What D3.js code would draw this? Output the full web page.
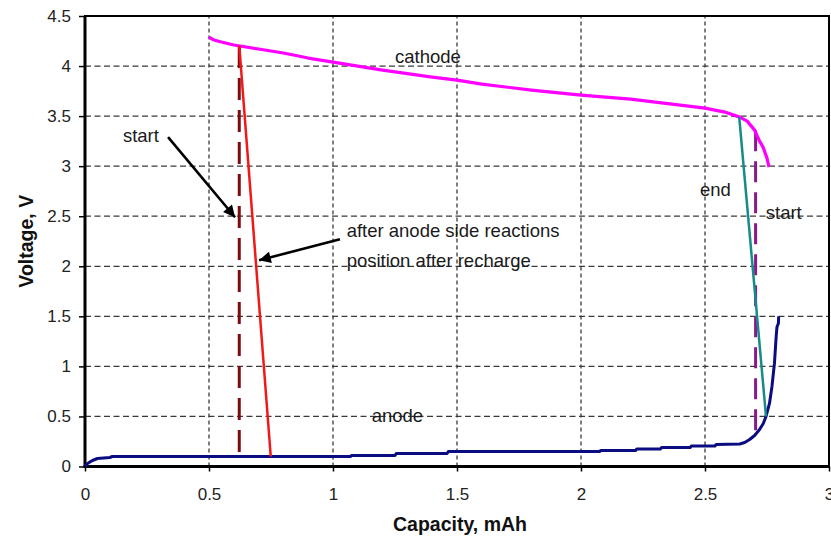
<!DOCTYPE html>
<html>
<head>
<meta charset="utf-8">
<script src="https://cdn.jsdelivr.net/npm/d3@7"></script>
<style>
  html, body { margin: 0; padding: 0; background: #fff; }
  svg { display: block; font-family: "Liberation Sans", Arial, sans-serif; }
</style>
</head>
<body>
<svg id="chart" width="831" height="540"></svg>
<script>
// Voltage profiles (capacity in mAh, voltage in V)
const cathode = [
  [0.5, 4.29], [0.52, 4.26], [0.55, 4.24], [0.6, 4.21], [0.7, 4.17], [0.8, 4.13],
  [0.9, 4.08], [1.0, 4.04], [1.2, 3.96], [1.4, 3.89], [1.5, 3.86], [1.6, 3.82],
  [1.8, 3.76], [2.0, 3.71], [2.2, 3.67], [2.4, 3.61], [2.5, 3.58], [2.58, 3.54],
  [2.64, 3.49], [2.67, 3.45], [2.7, 3.36], [2.72, 3.25], [2.734, 3.19],
  [2.75, 3.08], [2.758, 2.99]
];
const anode = [
  [0, 0.0], [0.01, 0.03], [0.03, 0.06], [0.05, 0.08], [0.1, 0.09], [0.11, 0.1],
  [1.07, 0.1], [1.075, 0.11], [1.25, 0.11], [1.255, 0.13], [1.46, 0.13], [1.465, 0.15],
  [2.075, 0.15], [2.08, 0.16], [2.22, 0.16], [2.225, 0.175], [2.32, 0.175], [2.325, 0.19],
  [2.44, 0.19], [2.445, 0.205], [2.54, 0.205], [2.545, 0.22], [2.64, 0.225],
  [2.66, 0.24], [2.68, 0.27], [2.70, 0.31], [2.72, 0.37], [2.735, 0.43], [2.746, 0.5],
  [2.76, 0.63], [2.77, 0.8], [2.78, 1.03], [2.787, 1.3], [2.79, 1.39], [2.796, 1.43], [2.797, 1.5]
];
// Electrode alignment lines
const recharged = [[0.622, 4.206], [0.749, 0.1]];     // after anode side reactions
const startLeft = [[0.622, 4.2], [0.622, 0.1]];       // initial position
const endLine = [[2.638, 3.49], [2.746, 0.5]];        // end of discharge
const startRight = [[2.704, 3.36], [2.704, 0.32]];    // start

// Axis ticks
const xTicks = [0, 0.5, 1, 1.5, 2, 2.5, 3];
const xTickLabels = ["0", "0.5", "1", "1.5", "2", "2.5", "3"];
const yTicks = [0, 0.5, 1, 1.5, 2, 2.5, 3, 3.5, 4, 4.5];
const yTickLabels = ["0", "0.5", "1", "1.5", "2", "2.5", "3", "3.5", "4", "4.5"];

// Text annotations, anchored in data units
const labels = [
  { text: "cathode", x: 1.25, y: 4.03 },
  { text: "anode", x: 1.156, y: 0.44 },
  { text: "start", x: 0.153, y: 3.24 },
  { text: "after anode side reactions", x: 1.055, y: 2.29 },
  { text: "position after recharge", x: 1.055, y: 1.99 },
  { text: "end", x: 2.48, y: 2.70 },
  { text: "start", x: 2.745, y: 2.47 }
];
const arrows = [
  { from: [0.335, 3.29], to: [0.605, 2.49] },
  { from: [1.028, 2.27], to: [0.702, 2.06] }
];

const svg = d3.select("#chart");
const margin = { left: 85, right: 2, top: 16, bottom: 73.5 };
const W = 831, H = 540;
const x = d3.scaleLinear().domain([0, 3]).range([margin.left, W - margin.right]);
const y = d3.scaleLinear().domain([0, 4.5]).range([H - margin.bottom, margin.top]);

svg.append("rect").attr("width", W).attr("height", H).attr("fill", "#fff");

// Grid
const grid = svg.append("g").attr("stroke", "#3a3a3a").attr("stroke-width", 1.3);
grid.selectAll(".gy").data(yTicks.filter(v => v > 0 && v < 4.5)).join("line")
  .attr("x1", x(0)).attr("x2", x(3))
  .attr("y1", d => y(d)).attr("y2", d => y(d))
  .attr("stroke-dasharray", "6,3.5");
grid.selectAll(".gx").data(xTicks.filter(v => v > 0 && v < 3)).join("line")
  .attr("y1", y(0)).attr("y2", y(4.5))
  .attr("x1", d => x(d)).attr("x2", d => x(d))
  .attr("stroke-dasharray", "4,3");

// Axes
const yAxis = d3.axisLeft(y).tickValues(yTicks)
  .tickFormat((d, i) => yTickLabels[i]).tickSize(6).tickPadding(8);
const gy = svg.append("g").attr("transform", `translate(${x(0)},0)`).call(yAxis);
const xAxis = d3.axisBottom(x).tickValues(xTicks)
  .tickFormat((d, i) => xTickLabels[i]).tickSize(5).tickPadding(16);
const gx = svg.append("g").attr("transform", `translate(0,${y(0)})`).call(xAxis);
[gx, gy].forEach(g => {
  g.select(".domain").remove();
  g.selectAll(".tick line").attr("stroke", "#000").attr("stroke-width", 1.5);
  g.selectAll(".tick text").attr("font-size", 17).attr("fill", "#222")
    .attr("font-family", "Liberation Sans, Arial, sans-serif");
});

// Frame
svg.append("rect")
  .attr("x", x(0)).attr("y", y(4.5))
  .attr("width", x(3) - x(0)).attr("height", y(0) - y(4.5))
  .attr("fill", "none").attr("stroke", "#000").attr("stroke-width", 2);
svg.append("line").attr("x1", x(0)).attr("x2", x(0)).attr("y1", y(4.5)).attr("y2", y(0) + 1.5)
  .attr("stroke", "#000").attr("stroke-width", 3);
svg.append("line").attr("x1", x(0) - 1.5).attr("x2", x(3)).attr("y1", y(0)).attr("y2", y(0))
  .attr("stroke", "#000").attr("stroke-width", 3);

// Curves
const line = d3.line().x(d => x(d[0])).y(d => y(d[1]));
const drawPath = (data, color, width, dash) => {
  const p = svg.append("path").datum(data).attr("d", line)
    .attr("fill", "none").attr("stroke", color).attr("stroke-width", width)
    .attr("stroke-linejoin", "round");
  if (dash) p.attr("stroke-dasharray", dash);
  return p;
};
drawPath(startLeft, "#7b0c12", 3, "22,10");
drawPath(startRight, "#8a1a8a", 3, "21,10");
drawPath(anode, "#0c0c82", 3);
drawPath(cathode, "#ff00ff", 3.2);
drawPath(recharged, "#f21818", 2.5);
drawPath(endLine, "#178a8a", 2.5);

// Arrows
svg.append("defs").append("marker")
  .attr("id", "head").attr("viewBox", "0 0 10 10")
  .attr("refX", 10).attr("refY", 5)
  .attr("markerWidth", 5.5).attr("markerHeight", 4.5)
  .attr("markerUnits", "strokeWidth").attr("orient", "auto")
  .append("path").attr("d", "M0,0 L10,5 L0,10 Z").attr("fill", "#000");
svg.selectAll(".arrow").data(arrows).join("line")
  .attr("x1", d => x(d.from[0])).attr("y1", d => y(d.from[1]))
  .attr("x2", d => x(d.to[0])).attr("y2", d => y(d.to[1]))
  .attr("stroke", "#000").attr("stroke-width", 2.6)
  .attr("marker-end", "url(#head)");

// Labels
svg.selectAll(".lbl").data(labels).join("text")
  .attr("x", d => x(d.x)).attr("y", d => y(d.y))
  .attr("font-size", 18.5).attr("fill", "#1a1a1a")
  .text(d => d.text);

// Axis titles
svg.append("text")
  .attr("x", (x(0) + x(3)) / 2 + 3).attr("y", 531)
  .attr("text-anchor", "middle").attr("font-weight", "bold").attr("font-size", 19.5)
  .attr("fill", "#111")
  .text("Capacity, mAh");
svg.append("text")
  .attr("transform", `translate(33,${(y(0) + y(4.5)) / 2}) rotate(-90)`)
  .attr("text-anchor", "middle").attr("font-weight", "bold").attr("font-size", 19.5)
  .attr("fill", "#111")
  .text("Voltage, V");
</script>
</body>
</html>
